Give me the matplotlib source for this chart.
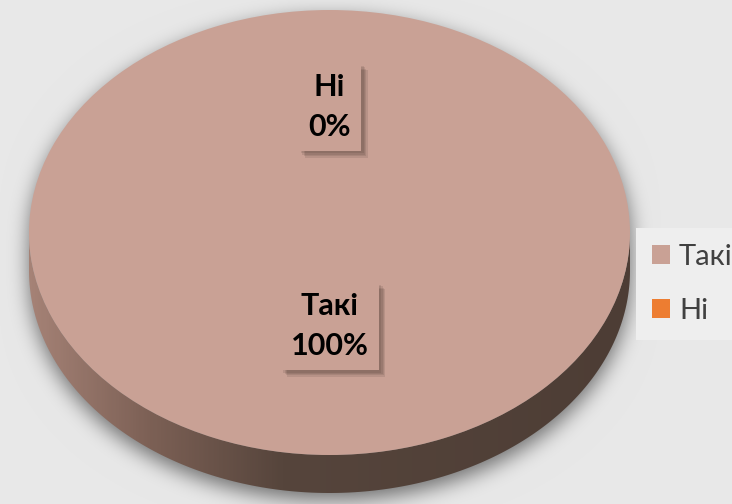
import matplotlib
matplotlib.use("Agg")
import matplotlib.pyplot as plt
import matplotlib.patheffects as pe
from matplotlib.patches import Polygon, Patch
from matplotlib.colors import LinearSegmentedColormap
import numpy as np

labels = ["Такі", "Ні"]
values = [100, 0]
colors = ["#C9A195", "#ED7D31"]

W, H = 732, 504
bg = "#E8E8E8"
# ellipse of the pie top in pixels
cx, cy = 329.5, 232.5
a, b = 300.5, 222.5
depth = 38
label_r = [0.42, 0.565]

plt.rcParams['font.family'] = ['Lato', 'DejaVu Sans']

fig = plt.figure(figsize=(W / 100, H / 100), dpi=100, facecolor=bg)

# soft shadow under the pie, own axes at the back
ax_sh = fig.add_axes([0, 0, 1, 1])
ax_sh.axis("off")
yy, xx = np.mgrid[0:H, 0:W]
off = 7
top = ((xx - cx) / a) ** 2 + ((yy - cy - off) / b) ** 2 <= 1
bot = ((xx - cx) / a) ** 2 + ((yy - cy - depth - off) / b) ** 2 <= 1
mid = (np.abs(xx - cx) <= a) & (yy >= cy + off) & (yy <= cy + depth + off)
mask = (top | bot | mid).astype(float)
sig = 10
k = np.exp(-0.5 * (np.arange(-3 * sig, 3 * sig + 1) / sig) ** 2)
k /= k.sum()
mask = np.apply_along_axis(lambda r: np.convolve(r, k, mode="same"), 1, mask)
mask = np.apply_along_axis(lambda c: np.convolve(c, k, mode="same"), 0, mask)
base = np.array([0xE8, 0xE8, 0xE8]) / 255.0
dark = np.array([0x70, 0x70, 0x70]) / 255.0
img = base[None, None, :] * (1 - mask[..., None]) + dark[None, None, :] * mask[..., None]
ax_sh.imshow(img, extent=(0, W, H, 0), aspect="auto", interpolation="bilinear")
ax_sh.set_xlim(0, W)
ax_sh.set_ylim(H, 0)

ax = fig.add_axes([0, 0, 1, 1])
ax.set_xlim(0, W)
ax.set_ylim(H, 0)
ax.axis("off")

# side of the 3d pie with horizontal gradient
t = np.linspace(0, np.pi, 200)
upper = np.column_stack([cx + a * np.cos(t), cy + b * np.sin(t)])
lower = np.column_stack([cx + a * np.cos(t), cy + depth + b * np.sin(t)])[::-1]
side = Polygon(np.vstack([upper, lower]), closed=True, fc="none", ec="none")
ax.add_patch(side)
side_cmap = LinearSegmentedColormap.from_list(
    "side", [(0, "#A58276"), (0.2, "#7C6055"), (0.42, "#56453C"), (1, "#4D3D35")])
grad = np.linspace(0, 1, 300)[None, :]
im = ax.imshow(grad, extent=(cx - a, cx + a, cy + b + depth, cy), cmap=side_cmap,
               aspect="auto", zorder=2)
im.set_clip_path(side)
ax.set_xlim(0, W)
ax.set_ylim(H, 0)

# top face
axp = fig.add_axes([(cx - a) / W, 1 - (cy + b) / H, 2 * a / W, 2 * b / H])
wedges, _ = axp.pie(values, colors=colors, startangle=90, counterclock=False,
                    radius=1, wedgeprops=dict(linewidth=0))
axp.set_xlim(-1, 1)
axp.set_ylim(-1, 1)
axp.set_aspect("auto")
axp.axis("off")

total = sum(values)
box_shadow = [pe.SimplePatchShadow(offset=(d, -d), shadow_rgbFace="#3A2A24", alpha=0.12)
              for d in (5, 4, 3, 2)] + [pe.Normal()]
for w, lab, v, r in zip(wedges, labels, values, label_r):
    ang = np.deg2rad((w.theta1 + w.theta2) / 2)
    txt = axp.text(r * np.cos(ang), r * np.sin(ang), f"{lab}\n{v / total * 100:.0f}%",
                   ha="center", va="center", fontsize=22, fontweight="bold",
                   linespacing=1.5, color="black",
                   bbox=dict(boxstyle="square,pad=0.33", fc=colors[0], ec="none"))
    txt.get_bbox_patch().set_path_effects(box_shadow)

handles = [Patch(fc=c, ec="none") for c in colors]
leg = fig.legend(handles, labels, loc="upper left",
                 bbox_to_anchor=(636 / W, 1 - 228 / H), frameon=True,
                 facecolor="#EEEEEE", edgecolor="none", fancybox=False, framealpha=1,
                 fontsize=21, labelcolor="#404040", handlelength=0.62,
                 handleheight=0.62, handletextpad=0.3, labelspacing=0.95,
                 borderpad=0.55, borderaxespad=0)

fig.savefig("out.png", dpi=100, facecolor=bg)
